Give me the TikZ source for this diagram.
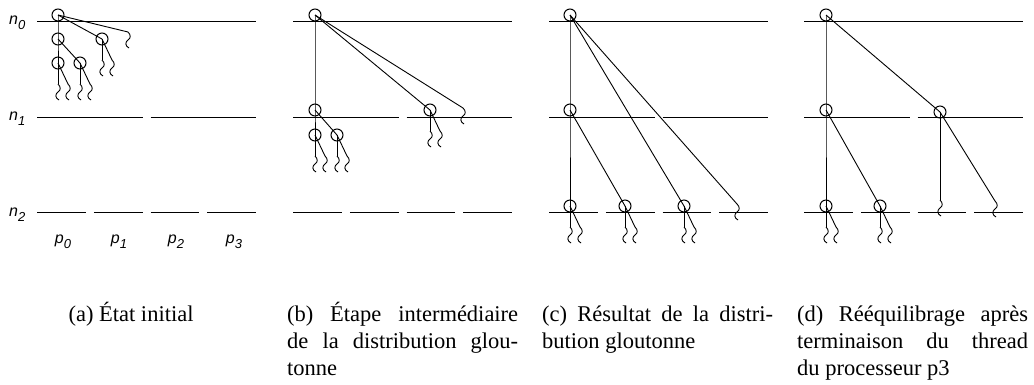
\documentclass[tikz,border=0pt]{standalone}
\usepackage{fontspec}
\setmainfont{Liberation Serif}
\setsansfont{Liberation Sans}
\usetikzlibrary{positioning}

\tikzset{
  task/.style={draw, circle, minimum size=12pt, inner sep=0pt, line width=1pt},
  level/.style={line width=1pt},
  edge/.style={line width=0.9pt},
  thread/.pic={\draw[line width=0.9pt] (0,0) .. controls (3,3) and (3,6) .. (0,8) .. controls (-3,10) and (-3,14) .. (1,16);},
  captext/.style={anchor=base west, inner sep=0pt, text width=231pt, align=justify, font=\fontsize{22.5}{27}\selectfont},
  lbl/.style={inner sep=0pt, font=\fontsize{16}{16}\selectfont\sffamily\itshape}
}
\newcommand{\idx}[2]{#1\raisebox{-5pt}{\fontsize{13}{13}\selectfont #2}}
% two threads hanging below a task
\newcommand{\forks}[1]{%
  \coordinate (#1-v) at ([yshift=-21pt]#1.center);
  \coordinate (#1-d) at ([xshift=10pt,yshift=-21pt]#1.center);
  \draw[edge] (#1.center) -- (#1-v) pic{thread};
  \draw[edge] (#1.center) -- (#1-d) pic{thread};}

\begin{document}
\begin{tikzpicture}[x=1pt, y=-1pt]
\useasboundingbox (0,0) rectangle (1034,384);

% levels of the hierarchy
\foreach \x in {37,293,549,804} {
  \draw[level] (\x,21) -- ++(219,0);
  \foreach \i in {0,1}
    \draw[level] ({\x+\i*113.5},117) -- ++(105.5,0);
  \foreach \i in {0,...,3}
    \draw[level] ({\x+\i*56.75},212) -- ++(48.75,0);
}
\node[lbl, anchor=base west] (n0) at (9,24) {\idx{n}{0}};
\node[lbl, anchor=base west] (n1) at (9,120) {\idx{n}{1}};
\node[lbl, anchor=base west] (n2) at (9,216) {\idx{n}{2}};
\node[lbl, anchor=base] (p0) at (63,243) {\idx{p}{0}};
\node[lbl, anchor=base] (p1) at (119,243) {\idx{p}{1}};
\node[lbl, anchor=base] (p2) at (176,243) {\idx{p}{2}};
\node[lbl, anchor=base] (p3) at (234,243) {\idx{p}{3}};

% (a)
\node[task] (a0) at (58,15) {};
\node[task] (a1) at (58,39) {};
\node[task] (a2) at (102,39) {};
\node[task] (a3) at (58,63) {};
\node[task] (a4) at (80,63) {};
\coordinate (at) at (128,32);
\draw[edge] (a0.center) -- (a1.center) -- (a3.center);
\draw[edge] (a0.center) -- (a2.center);
\draw[edge] (a1.center) -- (a4.center);
\draw[edge] (a0.center) -- (at) pic{thread};
\forks{a2} \forks{a3} \forks{a4}

% (b)
\node[task] (b0) at (315,15) {};
\node[task] (b1) at (315,110) {};
\node[task] (b2) at (430,110) {};
\node[task] (b3) at (315,135) {};
\node[task] (b4) at (337,135) {};
\coordinate (bt) at (463,108);
\draw[edge] (b0.center) -- (b1.center) -- (b3.center);
\draw[edge] (b0.center) -- (b2.center);
\draw[edge] (b1.center) -- (b4.center);
\draw[edge] (b0.center) -- (bt) pic{thread};
\forks{b2} \forks{b3} \forks{b4}

% (c)
\node[task] (c0) at (570,15) {};
\node[task] (c1) at (570,110) {};
\node[task] (c2) at (570,206) {};
\node[task] (c3) at (625,206) {};
\node[task] (c4) at (684,206) {};
\coordinate (ct) at (737,204);
\draw[edge] (c0.center) -- (c1.center) -- (c2.center);
\draw[edge] (c1.center) -- (c3.center);
\draw[edge] (c0.center) -- (c4.center);
\draw[edge] (c0.center) -- (ct) pic{thread};
\forks{c2} \forks{c3} \forks{c4}

% (d)
\node[task] (d0) at (826,15) {};
\node[task] (d1) at (826,110) {};
\node[task] (d2) at (940,112) {};
\node[task] (d3) at (826,206) {};
\node[task] (d4) at (880,206) {};
\coordinate (dt1) at (940,200);
\coordinate (dt2) at (995,201);
\draw[edge] (d0.center) -- (d1.center) -- (d3.center);
\draw[edge] (d1.center) -- (d4.center);
\draw[edge] (d0.center) -- (d2.center);
\draw[edge] (d2.center) -- (dt1) pic{thread};
\draw[edge] (d2.center) -- (dt2) pic{thread};
\forks{d3} \forks{d4}

% captions
\node[captext, anchor=base, text width=, align=left] (capa) at (131,321) {(a) État initial};
\node[captext] (capb) at (287,321) {(b) Étape intermédiaire\linebreak de la distribution glou-\linebreak tonne};
\node[captext] (capc) at (542,321) {(c) Résultat de la distri-\linebreak bution gloutonne};
\node[captext] (capd) at (797,321) {(d) Rééquilibrage après\linebreak terminaison du thread\linebreak du processeur p3};
\end{tikzpicture}
\end{document}
